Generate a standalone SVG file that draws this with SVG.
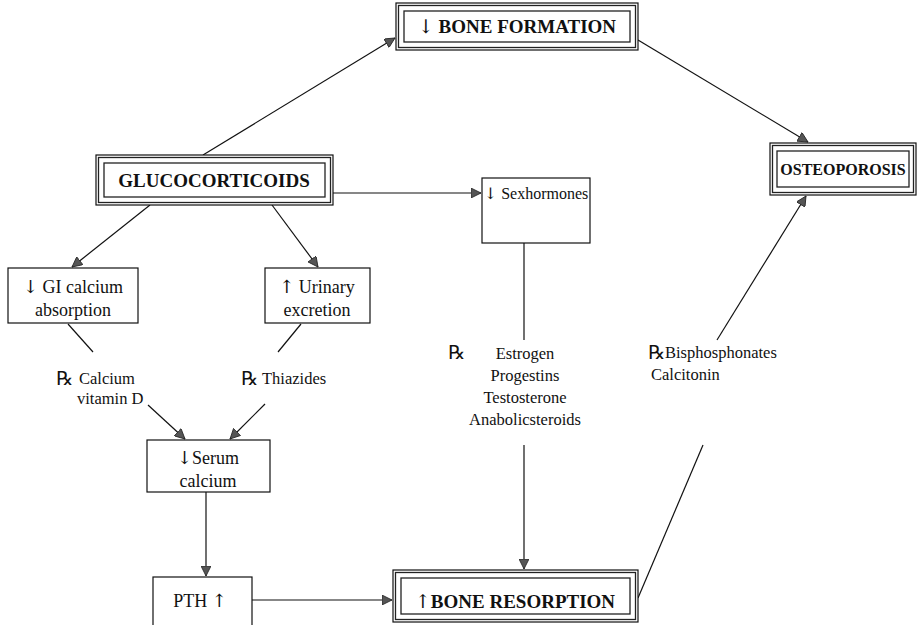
<svg xmlns="http://www.w3.org/2000/svg" width="918" height="625" viewBox="0 0 918 625">
  <style>
    .bg { fill: #ffffff; }
    .box { fill: #ffffff; stroke: #111; stroke-width: 1.2; }
    .frame { fill: none; stroke: #222; stroke-width: 1.3; }
    .title { font-family: "Liberation Serif", "Times New Roman", serif; font-weight: bold; font-size: 19px; fill: #111; text-anchor: middle; }
    .lbl { font-family: "Liberation Serif", "Times New Roman", serif; font-size: 18px; fill: #111; text-anchor: middle; }
    .rx-t { font-family: "Liberation Serif", "Times New Roman", serif; font-size: 16.5px; fill: #111; }
    .rx { font-family: "DejaVu Sans", "Liberation Sans", sans-serif; font-size: 19px; fill: #111; }
    .ar { font-family: "DejaVu Serif", "DejaVu Sans", serif; font-weight: normal; fill: #111; }
    .edge { fill: none; stroke: #111; stroke-width: 1.2; }
  </style>
  <defs>
    <marker id="arrow" viewBox="0 0 10 10" refX="10" refY="5" markerWidth="11" markerHeight="10" markerUnits="userSpaceOnUse" orient="auto">
      <path d="M0,0 L10,5 L0,10 z" fill="#555" stroke="#222" stroke-width="0.8"/>
    </marker>
  </defs>
  <rect class="bg" x="0" y="0" width="918" height="625"/>

  <!-- connectors -->
  <g id="connectors">
    <line class="edge" x1="203" y1="155" x2="395" y2="38" marker-end="url(#arrow)"/>
    <line class="edge" x1="638" y1="40" x2="808" y2="142" marker-end="url(#arrow)"/>
    <line class="edge" x1="333" y1="193" x2="481" y2="193" marker-end="url(#arrow)"/>
    <line class="edge" x1="150" y1="205" x2="72" y2="267" marker-end="url(#arrow)"/>
    <line class="edge" x1="272" y1="205" x2="318" y2="267" marker-end="url(#arrow)"/>
    <line class="edge" x1="68" y1="324" x2="93" y2="352"/>
    <line class="edge" x1="301" y1="324" x2="278" y2="352"/>
    <line class="edge" x1="148" y1="405" x2="185" y2="439" marker-end="url(#arrow)"/>
    <line class="edge" x1="265" y1="404" x2="230" y2="439" marker-end="url(#arrow)"/>
    <line class="edge" x1="206" y1="492" x2="206" y2="576" marker-end="url(#arrow)"/>
    <line class="edge" x1="252" y1="600" x2="392" y2="600" marker-end="url(#arrow)"/>
    <line class="edge" x1="524" y1="243" x2="524" y2="340"/>
    <line class="edge" x1="524" y1="445" x2="524" y2="569" marker-end="url(#arrow)"/>
    <line class="edge" x1="638" y1="598" x2="703" y2="445"/>
    <line class="edge" x1="717" y1="340" x2="806" y2="196" marker-end="url(#arrow)"/>
  </g>

  <!-- framed key nodes -->
  <g id="bone-formation">
    <rect class="box" x="396" y="3" width="242" height="47"/>
    <rect class="frame" x="398.5" y="5.5" width="237" height="42"/>
    <rect class="frame" x="404" y="11" width="226" height="31"/>
    <text class="title" x="517" y="33"><tspan class="ar">↓</tspan> BONE FORMATION</text>
  </g>
  <g id="glucocorticoids">
    <rect class="box" x="96" y="155" width="237" height="50"/>
    <rect class="frame" x="98.5" y="157.5" width="232" height="45"/>
    <rect class="frame" x="104" y="163" width="221" height="34"/>
    <text class="title" x="214" y="187">GLUCOCORTICOIDS</text>
  </g>
  <g id="osteoporosis">
    <rect class="box" x="770" y="143" width="146" height="52"/>
    <rect class="frame" x="772.5" y="145.5" width="141" height="47"/>
    <rect class="frame" x="777" y="151" width="132" height="36"/>
    <text class="title" x="843" y="175" style="font-size:16px">OSTEOPOROSIS</text>
  </g>
  <g id="bone-resorption">
    <rect class="box" x="393" y="570" width="245" height="52"/>
    <rect class="frame" x="395.5" y="572.5" width="240" height="47"/>
    <rect class="frame" x="401" y="578" width="229" height="36"/>
    <text class="title" x="515" y="608"><tspan class="ar">↑</tspan>BONE RESORPTION</text>
  </g>

  <!-- plain nodes -->
  <g id="sexhormones">
    <rect class="box" x="482" y="178" width="108" height="65"/>
    <text class="lbl" x="536" y="199" style="font-size:16px"><tspan class="ar">↓</tspan> Sexhormones</text>
  </g>
  <g id="gi-absorption">
    <rect class="box" x="8" y="268" width="130" height="55"/>
    <text class="lbl" x="73" y="293"><tspan class="ar">↓</tspan> GI calcium</text>
    <text class="lbl" x="73" y="316">absorption</text>
  </g>
  <g id="urinary-excretion">
    <rect class="box" x="265" y="268" width="105" height="55"/>
    <text class="lbl" x="317" y="293"><tspan class="ar">↑</tspan> Urinary</text>
    <text class="lbl" x="317" y="316">excretion</text>
  </g>
  <g id="serum-calcium">
    <rect class="box" x="147" y="440" width="123" height="52"/>
    <text class="lbl" x="208" y="464"><tspan class="ar">↓</tspan>Serum</text>
    <text class="lbl" x="208" y="487">calcium</text>
  </g>
  <g id="pth">
    <rect class="box" x="153" y="577" width="99" height="52"/>
    <text class="lbl" x="200" y="607">PTH <tspan class="ar">↑</tspan></text>
  </g>

  <!-- treatment notes -->
  <g id="rx-calcium">
    <text class="rx" x="56" y="385">℞</text>
    <text class="rx-t" x="79" y="384">Calcium</text>
    <text class="rx-t" x="77" y="404">vitamin D</text>
  </g>
  <g id="rx-thiazides">
    <text class="rx" x="241" y="385">℞</text>
    <text class="rx-t" x="262" y="384">Thiazides</text>
  </g>
  <g id="rx-hormones">
    <text class="rx" x="448" y="359">℞</text>
    <text class="rx-t" x="525" y="359" text-anchor="middle">Estrogen</text>
    <text class="rx-t" x="525" y="381" text-anchor="middle">Progestins</text>
    <text class="rx-t" x="525" y="403" text-anchor="middle">Testosterone</text>
    <text class="rx-t" x="525" y="425" text-anchor="middle">Anabolicsteroids</text>
  </g>
  <g id="rx-bisphosphonates">
    <text class="rx" x="648" y="359">℞</text>
    <text class="rx-t" x="665" y="358">Bisphosphonates</text>
    <text class="rx-t" x="651" y="380">Calcitonin</text>
  </g>
</svg>
